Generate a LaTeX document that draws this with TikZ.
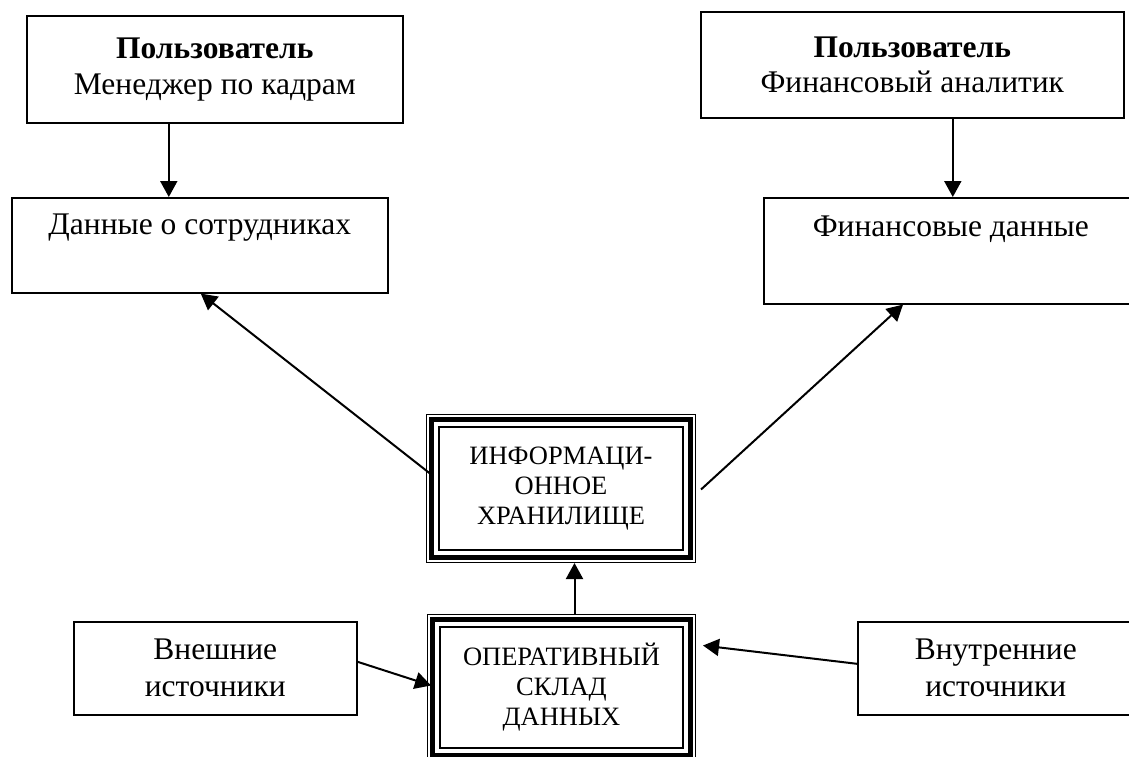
\documentclass[tikz,border=0pt]{standalone}
\usepackage{fontspec}
\setmainfont{Liberation Serif}
\usetikzlibrary{arrows.meta,calc}
\newcommand{\mainsz}{\fontsize{31.5}{35.5}\selectfont}
\newcommand{\smallsz}{\fontsize{26.5}{30}\selectfont}
\newcommand{\tripleinner}[1]{%
  \draw[line width=4.5pt] ([shift={(5.5pt,-5.5pt)}]#1.north west) rectangle ([shift={(-5.5pt,5.5pt)}]#1.south east);
  \draw[line width=1.5pt] ([shift={(13pt,-13pt)}]#1.north west) rectangle ([shift={(-13pt,13pt)}]#1.south east);}
\begin{document}
\begin{tikzpicture}[x=1pt,y=-1pt,
  box/.style={draw, line width=1.6pt, anchor=north west, inner sep=0pt, align=center, font=\mainsz},
  tbox/.style={draw, line width=1pt, anchor=north west, inner sep=0pt, align=center, font=\smallsz},
  arr/.style={line width=2pt, -{Triangle[length=16pt,width=17pt]}}]
\useasboundingbox (0,0) rectangle (1129,757);
\clip (0,0) rectangle (1129,757);
\node[box, minimum width=376pt, minimum height=107pt] (hruser) at (26,15) {\textbf{Пользователь}\\Менеджер по кадрам};
\node[box, minimum width=376pt, minimum height=95pt] (hrdata) at (11,197) {Данные о сотрудниках\\[-4pt]\strut};
\node[box, minimum width=423pt, minimum height=106pt] (finuser) at (700,11) {\textbf{Пользователь}\\Финансовый аналитик};
\node[box, minimum width=374pt, minimum height=106pt] (findata) at (763,197) {Финансовые данные\\[4pt]\strut};
\node[box, minimum width=283pt, minimum height=93pt, font=\fontsize{31.5}{37}\selectfont] (ext) at (73,621) {Внешние\\источники};
\node[box, minimum width=276pt, minimum height=93pt, font=\fontsize{31.5}{37}\selectfont] (int) at (857,621) {Внутренние\\источники};
\node[tbox, minimum width=269pt, minimum height=148pt] (info) at (426,414) {ИНФОРМАЦИ-\\ОННОЕ\\ХРАНИЛИЩЕ};
\node[tbox, minimum width=268pt, minimum height=146pt] (op) at (427,614) {ОПЕРАТИВНЫЙ\\СКЛАД\\ДАННЫХ};
\tripleinner{info}
\tripleinner{op}
\draw[arr] ([xshift=-46pt]hruser.south) -- ([xshift=-46pt]hruser.south |- hrdata.north);
\draw[arr] ([xshift=40.5pt]finuser.south) -- ([xshift=40.5pt]finuser.south |- findata.north);
\draw[arr] ([shift={(4pt,15pt)}]info.west) -- ([xshift=1pt]hrdata.south);
\draw[arr] ([shift={(5pt,-1pt)}]info.east) -- ([xshift=140pt]findata.south west);
\draw[arr] ([xshift=13pt]op.north) -- ([xshift=13pt]op.north |- info.south);
\draw[arr] ([yshift=6.5pt]ext.east) -- ([shift={(4pt,2pt)}]op.west);
\draw[arr] ([yshift=4.5pt]int.west) -- ([shift={(7pt,42pt)}]op.east);
\end{tikzpicture}
\end{document}
